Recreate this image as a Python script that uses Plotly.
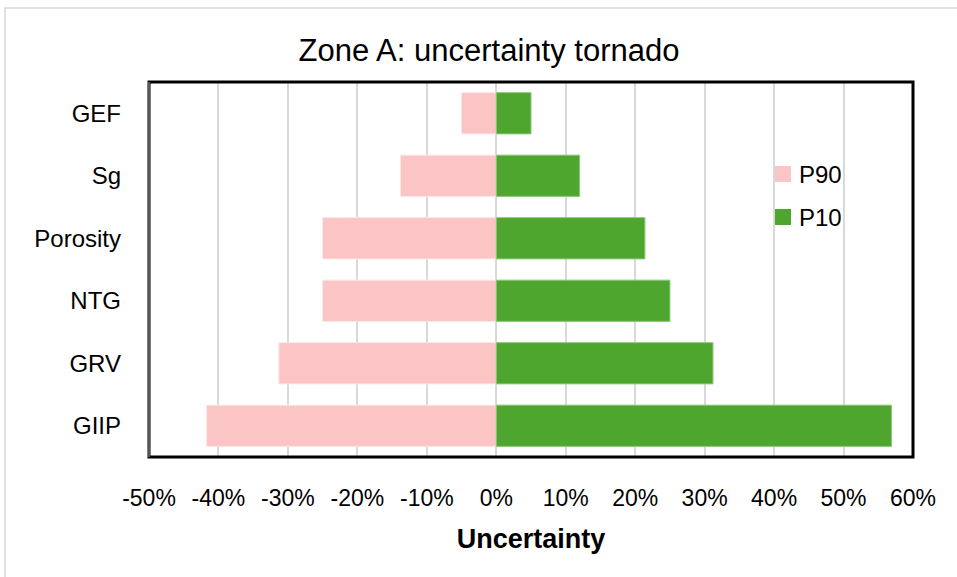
import plotly.graph_objects as go

# Tornado chart data (fractions of base case)
parameters = ["GEF", "Sg", "Porosity", "NTG", "GRV", "GIIP"]
p90_values = [-0.05, -0.138, -0.25, -0.25, -0.313, -0.417]
p10_values = [0.05, 0.12, 0.214, 0.25, 0.312, 0.569]
tick_values = [-0.5, -0.4, -0.3, -0.2, -0.1, 0.0, 0.1, 0.2, 0.3, 0.4, 0.5, 0.6]
tick_labels = ["-50%", "-40%", "-30%", "-20%", "-10%", "0%", "10%", "20%", "30%", "40%", "50%", "60%"]
series_names = ["P90", "P10"]

FONT = "Liberation Sans, Arial, sans-serif"
PINK = "#FBC4C5"
GREEN = "#4FA62F"

W, H = 957, 577
L, R, T, B = 149, 44, 82, 120
PW, PH = W - L - R, H - T - B


def px_x(x):
    return (x - L) / PW


def px_y(y):
    return 1 - (y - T) / PH


fig = go.Figure()
fig.add_trace(go.Bar(
    y=parameters, x=p90_values, orientation="h", name=series_names[0],
    marker=dict(color=PINK, line=dict(color="#FDE5E5", width=1)),
))
fig.add_trace(go.Bar(
    y=parameters, x=p10_values, orientation="h", name=series_names[1],
    marker=dict(color=GREEN, line=dict(color="#8CC87A", width=1)),
))

fig.update_layout(
    width=W, height=H,
    margin=dict(l=L, r=R, t=T, b=B, pad=0),
    paper_bgcolor="white", plot_bgcolor="white",
    barmode="relative", bargap=0.34,
    font=dict(family=FONT, size=23, color="black"),
    title=dict(text="Zone A: uncertainty tornado", x=489 / W, xanchor="center",
               y=1 - 50 / H, yanchor="middle", font=dict(size=31, family=FONT, color="black")),
    showlegend=False,
    xaxis=dict(range=[-0.5, 0.6], tickvals=tick_values, ticktext=tick_labels,
               showgrid=True, gridcolor="#D9D9D9", gridwidth=1.5,
               zeroline=False, showline=False, ticks="", ticklabelstandoff=25,
               tickfont=dict(size=23, family=FONT),
               title=dict(text="<b>Uncertainty</b>", font=dict(size=27, family=FONT), standoff=19)),
    yaxis=dict(autorange="reversed", showgrid=False, zeroline=False, showline=False,
               ticks="", tickfont=dict(size=24, family=FONT), ticklabelstandoff=27),
)

# Legend drawn as swatches with labels
legend_colors = [PINK, GREEN]
legend_rows = [174, 217]
for name, color, yc in zip(series_names, legend_colors, legend_rows):
    fig.add_shape(type="rect", xref="paper", yref="paper",
                  x0=px_x(775), x1=px_x(791), y0=px_y(yc + 8), y1=px_y(yc - 8),
                  fillcolor=color, line=dict(width=0))
    fig.add_annotation(xref="paper", yref="paper", x=px_x(797), y=px_y(yc),
                       xanchor="left", yanchor="middle", text=name, showarrow=False,
                       font=dict(size=24, family=FONT, color="black"))

# Plot-area frame: thin left edge, heavier top/right/bottom
fig.add_shape(type="rect", xref="paper", yref="paper", x0=0, x1=1, y0=0, y1=1,
              line=dict(color="black", width=3), layer="above")
fig.add_shape(type="line", xref="paper", yref="paper", x0=0, x1=0, y0=0, y1=1,
              line=dict(color="#555555", width=2), layer="above")
# Chart-area border (light gray)
fig.add_shape(type="rect", xref="paper", yref="paper",
              x0=px_x(5), x1=px_x(W + 20), y0=px_y(H + 20), y1=px_y(8),
              line=dict(color="#D9D9D9", width=1.5), layer="below")

fig.write_html("out.html")
